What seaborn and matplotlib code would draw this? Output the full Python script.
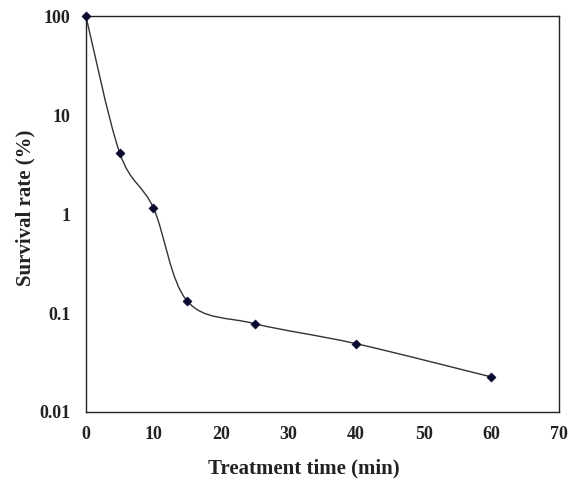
import numpy as np
import pandas as pd
import matplotlib
matplotlib.use("Agg")
import matplotlib.pyplot as plt
import seaborn as sns
from matplotlib.path import Path
from matplotlib.patches import PathPatch
from matplotlib.ticker import FixedLocator, FixedFormatter, MultipleLocator

# data
time_min = [0, 5, 10, 15, 25, 40, 60]
survival = [100, 4.15, 1.15, 0.132, 0.078, 0.049, 0.0226]
y_ticks = [0.01, 0.1, 1, 10, 100]
y_tick_labels = ["0.01", "0.1", "1", "10", "100"]
x_ticks = [0, 10, 20, 30, 40, 50, 60, 70]

sns.set_theme(style="white")
plt.rcParams['font.family'] = ['Liberation Serif', 'DejaVu Serif']
plt.rcParams['font.weight'] = 'bold'

fig = plt.figure(figsize=(5.69, 4.91), dpi=100)
ax = fig.add_axes([0.151, 0.161, 0.831, 0.806])

df = pd.DataFrame({"t": time_min, "s": survival})

# smooth (Catmull-Rom / Excel-like) line in (x, log y) space
xs = np.array(time_min, dtype=float)
ls = np.log10(np.array(survival, dtype=float))
n = len(xs)
verts = [(xs[0], 10 ** ls[0])]
codes = [Path.MOVETO]
for i in range(n - 1):
    x0, y0 = (xs[i - 1], ls[i - 1]) if i > 0 else (xs[i], ls[i])
    x1, y1 = xs[i], ls[i]
    x2, y2 = xs[i + 1], ls[i + 1]
    x3, y3 = (xs[i + 2], ls[i + 2]) if i + 2 < n else (xs[i + 1], ls[i + 1])
    c1 = (x1 + (x2 - x0) / 6, y1 + (y2 - y0) / 6)
    c2 = (x2 - (x3 - x1) / 6, y2 - (y3 - y1) / 6)
    verts += [(c1[0], 10 ** c1[1]), (c2[0], 10 ** c2[1]), (x2, 10 ** y2)]
    codes += [Path.CURVE4] * 3

ax.set_yscale("log")
ax.set_xlim(0, 70)
ax.set_ylim(0.01, 100)

patch = PathPatch(Path(verts, codes), facecolor="none", edgecolor="#333333", lw=1.0, zorder=2)
ax.add_patch(patch)

sns.scatterplot(data=df, x="t", y="s", marker="D", s=22, color="#0a0a30",
                edgecolor="#0a0a30", ax=ax, zorder=3, clip_on=False)

ax.yaxis.set_major_locator(FixedLocator(y_ticks))
ax.yaxis.set_major_formatter(FixedFormatter(y_tick_labels))
ax.yaxis.set_minor_locator(FixedLocator([]))
ax.xaxis.set_major_locator(FixedLocator(x_ticks))
ax.xaxis.set_minor_locator(MultipleLocator(5))

ax.tick_params(which="both", direction="in", length=4, width=1, color="#222222",
               labelsize=13)
ax.tick_params(axis="x", which="both", pad=10)
ax.tick_params(axis="y", which="both", pad=11)
for lab in ax.get_xticklabels() + ax.get_yticklabels():
    lab.set_fontweight("bold")
    lab.set_color("#222222")

for sp in ax.spines.values():
    sp.set_visible(True)
    sp.set_color("#222222")
    sp.set_linewidth(1.0)

ax.set_xlabel("Treatment time (min)", fontsize=15, fontweight="bold", color="#222222", labelpad=11)
ax.set_ylabel("Survival rate (%)", fontsize=15, fontweight="bold", color="#222222", labelpad=3)
ax.xaxis.label.set_x(0.461)
ax.yaxis.label.set_y(0.515)

fig.savefig("out.png", dpi=100)
